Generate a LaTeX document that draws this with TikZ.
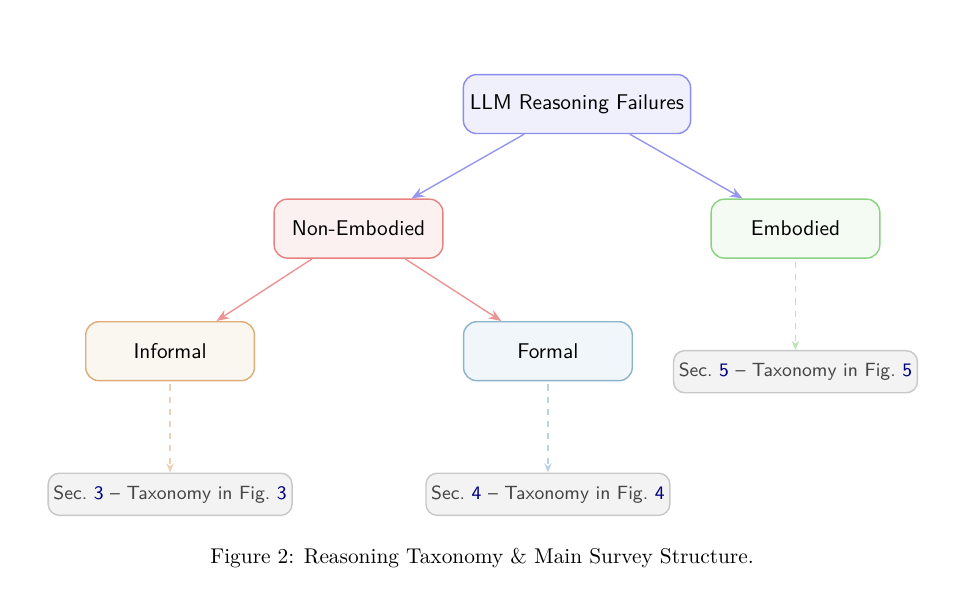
\documentclass[tikz,border=0pt]{standalone}
\usepackage{xcolor}
\usepackage{tikz}
\usetikzlibrary{arrows.meta,positioning}

\definecolor{rootline}{RGB}{140,140,235}
\definecolor{rootfill}{RGB}{240,240,253}
\definecolor{nonline}{RGB}{232,130,130}
\definecolor{nonfill}{RGB}{252,241,241}
\definecolor{embline}{RGB}{140,210,130}
\definecolor{embfill}{RGB}{243,251,242}
\definecolor{infline}{RGB}{222,172,120}
\definecolor{inffill}{RGB}{250,246,240}
\definecolor{forline}{RGB}{140,180,205}
\definecolor{forfill}{RGB}{240,246,249}
\definecolor{secline}{RGB}{200,200,200}
\definecolor{secfill}{RGB}{243,243,243}
\definecolor{sectext}{RGB}{70,70,70}
\definecolor{refnum}{RGB}{0,0,128}

\newcommand{\secref}[1]{Sec.~\textcolor{refnum}{#1} -- Taxonomy in Fig.~\textcolor{refnum}{#1}}

\begin{document}
\begin{tikzpicture}[
  on grid,
  box/.style={draw, rounded corners=6.5pt, align=center, line width=0.7pt,
    font=\sffamily\fontsize{10.5}{12.5}\selectfont,
    minimum width=83pt, minimum height=29pt, inner xsep=3.2pt},
  secbox/.style={draw=secline, fill=secfill, rounded corners=5.5pt, line width=0.7pt,
    font=\sffamily\fontsize{9.4}{11}\selectfont, text=sectext, minimum height=20.7pt, inner xsep=2.6pt},
  arrow/.style={-{Stealth[length=2.2mm,width=1.7mm]}, line width=0.7pt},
  dasharrow/.style={-{Stealth[length=1.6mm,width=1.3mm]}, dashed, line width=0.6pt, shorten <=1.5pt}
]
\useasboundingbox (-283.9pt,51.2pt) rectangle (198.3pt,-243.0pt);

\node[box, draw=rootline, fill=rootfill] (root) at (0,0) {LLM Reasoning Failures};
\node[box, draw=nonline, fill=nonfill, below left=61.3pt and 107.5pt of root] (nonemb) {Non-Embodied};
\node[box, draw=embline, fill=embfill, below right=61.3pt and 107.5pt of root] (emb) {Embodied};
\node[box, draw=infline, fill=inffill, below left=60.3pt and 92.7pt of nonemb] (informal) {Informal};
\node[box, draw=forline, fill=forfill, below right=60.3pt and 93.2pt of nonemb] (formal) {Formal};

\node[secbox, below=70.4pt of informal] (secinf) {\secref{3}};
\node[secbox, below=70.4pt of formal] (secfor) {\secref{4}};
\node[secbox, below=70.4pt of emb] (secemb) {\secref{5}};

\draw[arrow, draw=rootline!90, fill=rootline!90] (root) -- (nonemb);
\draw[arrow, draw=rootline!90, fill=rootline!90] (root) -- (emb);
\draw[arrow, draw=nonline!85, fill=nonline!85] (nonemb) -- (informal);
\draw[arrow, draw=nonline!85, fill=nonline!85] (nonemb) -- (formal);

\draw[dasharrow, infline!55] (informal) -- (secinf);
\draw[dasharrow, forline!60] (formal) -- (secfor);
\draw[dasharrow, embline!60] (emb) -- (secemb);

\node[font=\fontsize{10.5}{12.5}\selectfont] (caption) at (-46.7pt,-223.4pt) {Figure 2: Reasoning Taxonomy \& Main Survey Structure.};
\end{tikzpicture}
\end{document}
